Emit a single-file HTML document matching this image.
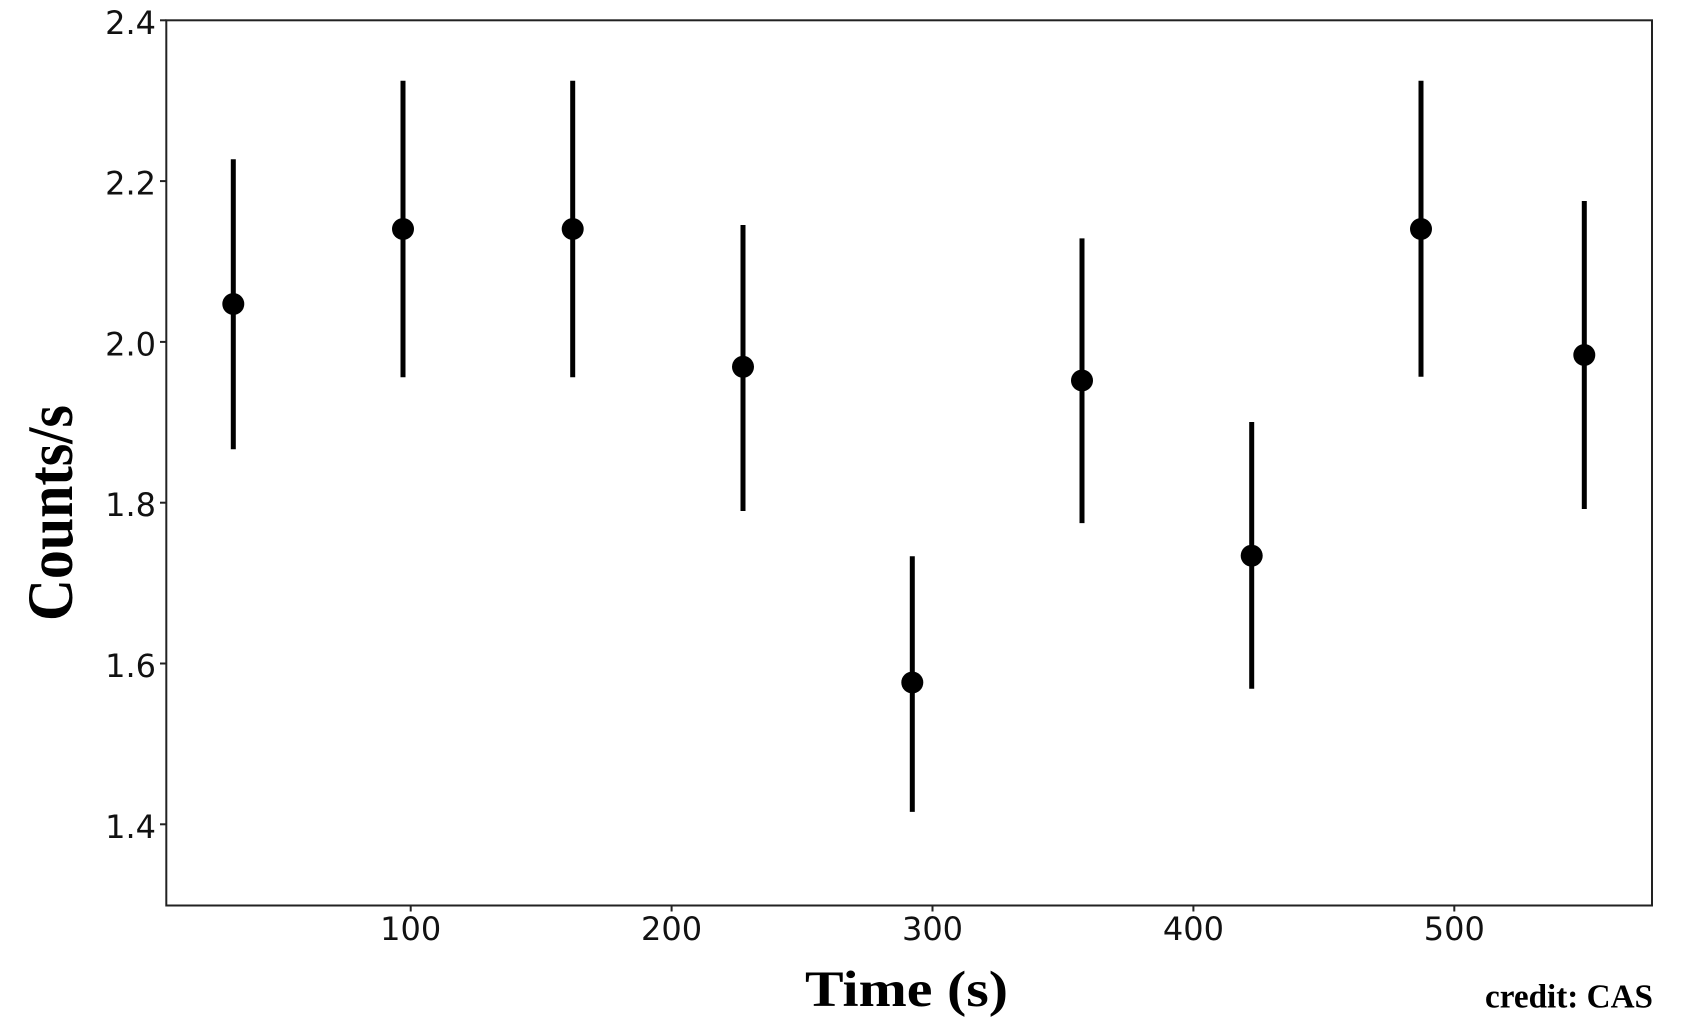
<!DOCTYPE html>
<html>
<head>
<meta charset="utf-8">
<style>
  html, body { margin: 0; padding: 0; background: #ffffff; }
  body { width: 1702px; height: 1035px; overflow: hidden; }
  svg { display: block; }
</style>
</head>
<body>
<svg width="1702" height="1035" viewBox="0 0 1702 1035" xmlns="http://www.w3.org/2000/svg">
  <rect x="0" y="0" width="1702" height="1035" fill="#ffffff"/>

  <!-- error bars -->
  <g stroke="#000" stroke-width="5" stroke-linecap="butt">
    <line x1="233.3" y1="159.3" x2="233.3" y2="449.3"/>
    <line x1="403" y1="80.7" x2="403" y2="377.3"/>
    <line x1="572.7" y1="80.7" x2="572.7" y2="377.3"/>
    <line x1="743" y1="225" x2="743" y2="511"/>
    <line x1="912.3" y1="556.2" x2="912.3" y2="811.9"/>
    <line x1="1082" y1="238.4" x2="1082" y2="523.1"/>
    <line x1="1251.7" y1="422" x2="1251.7" y2="688.7"/>
    <line x1="1421" y1="80.7" x2="1421" y2="376.7"/>
    <line x1="1584.3" y1="201" x2="1584.3" y2="509"/>
  </g>
  <!-- markers -->
  <g fill="#000">
    <circle cx="233.3" cy="304" r="11"/>
    <circle cx="403" cy="229" r="11"/>
    <circle cx="572.7" cy="229" r="11"/>
    <circle cx="743" cy="366.8" r="11"/>
    <circle cx="912.3" cy="682.5" r="11"/>
    <circle cx="1082" cy="380.5" r="11"/>
    <circle cx="1251.7" cy="555.7" r="11"/>
    <circle cx="1421" cy="229" r="11"/>
    <circle cx="1584.3" cy="355" r="11"/>
  </g>

  <!-- axes frame -->
  <rect x="166.3" y="20.3" width="1485.7" height="885.2" fill="none" stroke="#222" stroke-width="2"/>

  <!-- y ticks -->
  <g stroke="#222" stroke-width="2">
    <line x1="160" y1="20.3" x2="166.3" y2="20.3"/>
    <line x1="160" y1="181.1" x2="166.3" y2="181.1"/>
    <line x1="160" y1="341.9" x2="166.3" y2="341.9"/>
    <line x1="160" y1="502.7" x2="166.3" y2="502.7"/>
    <line x1="160" y1="663.5" x2="166.3" y2="663.5"/>
    <line x1="160" y1="824.3" x2="166.3" y2="824.3"/>
  </g>
  <!-- x ticks -->
  <g stroke="#222" stroke-width="2">
    <line x1="410.7" y1="905.5" x2="410.7" y2="911.5"/>
    <line x1="671.6" y1="905.5" x2="671.6" y2="911.5"/>
    <line x1="932.5" y1="905.5" x2="932.5" y2="911.5"/>
    <line x1="1193.4" y1="905.5" x2="1193.4" y2="911.5"/>
    <line x1="1454.3" y1="905.5" x2="1454.3" y2="911.5"/>
  </g>

  <!-- y tick labels -->
  <g font-family="'DejaVu Sans', 'Liberation Sans', sans-serif" font-size="32" fill="#111" text-anchor="end">
    <text x="156" y="33.8">2.4</text>
    <text x="156" y="194.6">2.2</text>
    <text x="156" y="355.4">2.0</text>
    <text x="156" y="516.2">1.8</text>
    <text x="156" y="677">1.6</text>
    <text x="156" y="838">1.4</text>
  </g>
  <!-- x tick labels -->
  <g font-family="'DejaVu Sans', 'Liberation Sans', sans-serif" font-size="32" fill="#111" text-anchor="middle">
    <text x="410.7" y="940">100</text>
    <text x="671.6" y="940">200</text>
    <text x="932.5" y="940">300</text>
    <text x="1193.4" y="940">400</text>
    <text x="1454.3" y="940">500</text>
  </g>

  <!-- axis labels -->
  <text x="805" y="1006" font-family="'Liberation Serif', 'Times New Roman', serif" font-weight="bold" font-size="51" fill="#000" textLength="203" lengthAdjust="spacingAndGlyphs">Time (s)</text>
  <text transform="translate(72,621) rotate(-90)" x="0" y="0" font-family="'Liberation Serif', 'Times New Roman', serif" font-weight="bold" font-size="65" fill="#000" textLength="216" lengthAdjust="spacingAndGlyphs">Counts/s</text>

  <!-- credit -->
  <text x="1485" y="1007.7" font-family="'Liberation Serif', 'Times New Roman', serif" font-weight="bold" font-size="34" fill="#000" textLength="168" lengthAdjust="spacingAndGlyphs">credit: CAS</text>
</svg>
</body>
</html>
